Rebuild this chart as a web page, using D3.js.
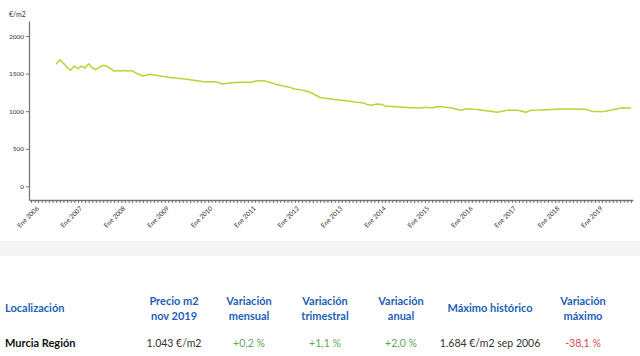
<!DOCTYPE html>
<html><head><meta charset="utf-8">
<script src="https://cdn.jsdelivr.net/npm/d3@7"></script>
<style>
html,body{margin:0;padding:0;background:#fff;}
svg{display:block;font-family:Lato,"Open Sans",sans-serif;}
</style></head>
<body>
<svg id="c" width="640" height="356"></svg>
<script>
// ---- data (€/m2, monthly) ----
const firstMonth = [2006, 7]; // Aug 2006 (month index 0-based)
const p2006 = [1625, 1684, 1640, 1580, 1545];
const p2007 = [1600, 1565, 1600, 1575, 1630, 1578, 1552, 1588, 1610, 1598, 1570, 1532];
const p2008 = [1540, 1535, 1540, 1536, 1540, 1510, 1488, 1468, 1482, 1490, 1480, 1476];
const p2009 = [1466, 1460, 1452, 1446, 1440, 1436, 1432, 1425, 1419, 1412, 1405, 1398];
const p2010 = [1390, 1388, 1390, 1392, 1378, 1362, 1368, 1375, 1380, 1383, 1385, 1384];
const p2011 = [1384, 1386, 1398, 1405, 1406, 1400, 1385, 1370, 1355, 1345, 1333, 1324];
const p2012 = [1310, 1296, 1290, 1280, 1268, 1255, 1235, 1208, 1182, 1175, 1170, 1162];
const p2013 = [1154, 1150, 1144, 1140, 1134, 1126, 1120, 1115, 1108, 1090, 1078, 1090];
const p2014 = [1095, 1090, 1070, 1066, 1062, 1058, 1055, 1052, 1050, 1047, 1045, 1042];
const p2015 = [1046, 1048, 1050, 1043, 1055, 1062, 1056, 1051, 1046, 1035, 1022, 1012];
const p2016 = [1025, 1033, 1028, 1024, 1018, 1012, 1006, 1000, 993, 986, 995, 1006];
const p2017 = [1014, 1013, 1012, 1008, 997, 986, 1008, 1011, 1014, 1016, 1018, 1020];
const p2018 = [1023, 1026, 1028, 1029, 1029, 1028, 1029, 1029, 1027, 1026, 1020, 1000];
const p2019 = [997, 995, 994, 998, 1010, 1020, 1030, 1040, 1045, 1041, 1043];
const series = [p2006, p2007, p2008, p2009, p2010, p2011, p2012, p2013, p2014, p2015, p2016, p2017, p2018, p2019];

const yTicks = [0, 500, 1000, 1500, 2000];
const monthNames = ["Ene","Feb","Mar","Abr","May","Jun","Jul","Ago","Sep","Oct","Nov","Dic"];
const unitLabel = "€/m2";

// ---- table ----
const headers = [["Localización"], ["Precio m2", "nov 2019"], ["Variación", "mensual"], ["Variación", "trimestral"], ["Variación", "anual"], ["Máximo histórico"], ["Variación", "máximo"]];
const rowValues = ["Murcia Región", "1.043 €/m2", "+0,2 %", "+1,1 %", "+2,0 %", "1.684 €/m2 sep 2006", "-38,1 %"];

// build points
const data = [];
let y = firstMonth[0], m = firstMonth[1];
series.forEach(arr => {
  arr.forEach(v => {
    data.push({date: new Date(y, m, 1), value: v});
    m++; if (m > 11) { m = 0; y++; }
  });
});

const svg = d3.select("#c");

const x = d3.scaleTime().domain([new Date(2006, 0, 1), new Date(2019, 10, 1)]).range([31, 631]);
const xAxisScale = x.copy().domain([x.invert(29), x.invert(633)]).range([29, 633]);
const yS = d3.scaleLinear().domain([-182, 2200]).range([200, 21]);

// y axis
const yAxis = svg.append("g").attr("transform", "translate(29,0)")
  .call(d3.axisLeft(yS).tickValues(yTicks).tickFormat(d3.format("d")).tickSize(3).tickSizeOuter(0).tickPadding(2));
yAxis.select(".domain").attr("stroke", "#777").attr("stroke-width", 1.3);
yAxis.selectAll(".tick line").attr("stroke", "#777");
yAxis.selectAll("text").attr("font-size", 6.5).attr("fill", "#333").attr("font-family", "Lato, sans-serif");

svg.append("text").attr("x", 9).attr("y", 17).attr("font-size", 7).attr("fill", "#333").text(unitLabel);

// x axis
const xAxis = svg.append("g").attr("transform", "translate(0,200)")
  .call(d3.axisBottom(xAxisScale).ticks(d3.timeMonth.every(1)).tickSize(3).tickSizeOuter(0)
    .tickFormat(d => d.getMonth() === 0 ? monthNames[0] + " " + d.getFullYear() : ""));
xAxis.select(".domain").attr("stroke", "#777").attr("stroke-width", 1.3);
xAxis.selectAll(".tick line").attr("stroke", "#666").attr("stroke-width", 0.9);
xAxis.selectAll("text")
  .attr("font-size", 6.5).attr("fill", "#333").attr("font-family", "Lato, sans-serif")
  .attr("text-anchor", "end").attr("dy", "0.35em")
  .attr("transform", "translate(2,3) rotate(-45)");

// line
svg.append("path").datum(data)
  .attr("fill", "none").attr("stroke", "#bad434").attr("stroke-width", 1.5)
  .attr("stroke-linejoin", "round")
  .attr("d", d3.line().x(d => x(d.date)).y(d => yS(d.value)));

// separator band
svg.append("rect").attr("x", 0).attr("y", 241).attr("width", 640).attr("height", 15).attr("fill", "#f5f5f5");

// table
const colX = [5, 174, 249, 325, 401, 490, 583];
const headerColor = "#1d5fb6";
headers.forEach((h, i) => {
  const t = svg.append("text").attr("x", colX[i]).attr("font-size", 11).attr("font-weight", "bold")
    .attr("fill", headerColor).attr("text-anchor", i === 0 ? "start" : "middle");
  if (h.length === 1) {
    t.attr("y", 312).text(h[0]);
  } else {
    t.append("tspan").attr("x", colX[i]).attr("y", 305).text(h[0]);
    t.append("tspan").attr("x", colX[i]).attr("y", 320).text(h[1]);
  }
});
const rowColors = ["#111", "#333", "#5aa85a", "#5aa85a", "#5aa85a", "#333", "#d9474f"];
rowValues.forEach((v, i) => {
  svg.append("text").attr("x", colX[i]).attr("y", 347)
    .attr("font-size", i === 0 ? 11 : 10.5).attr("font-weight", i === 0 ? "bold" : "normal")
    .attr("fill", rowColors[i]).attr("text-anchor", i === 0 ? "start" : "middle").text(v);
});
</script>
</body></html>
